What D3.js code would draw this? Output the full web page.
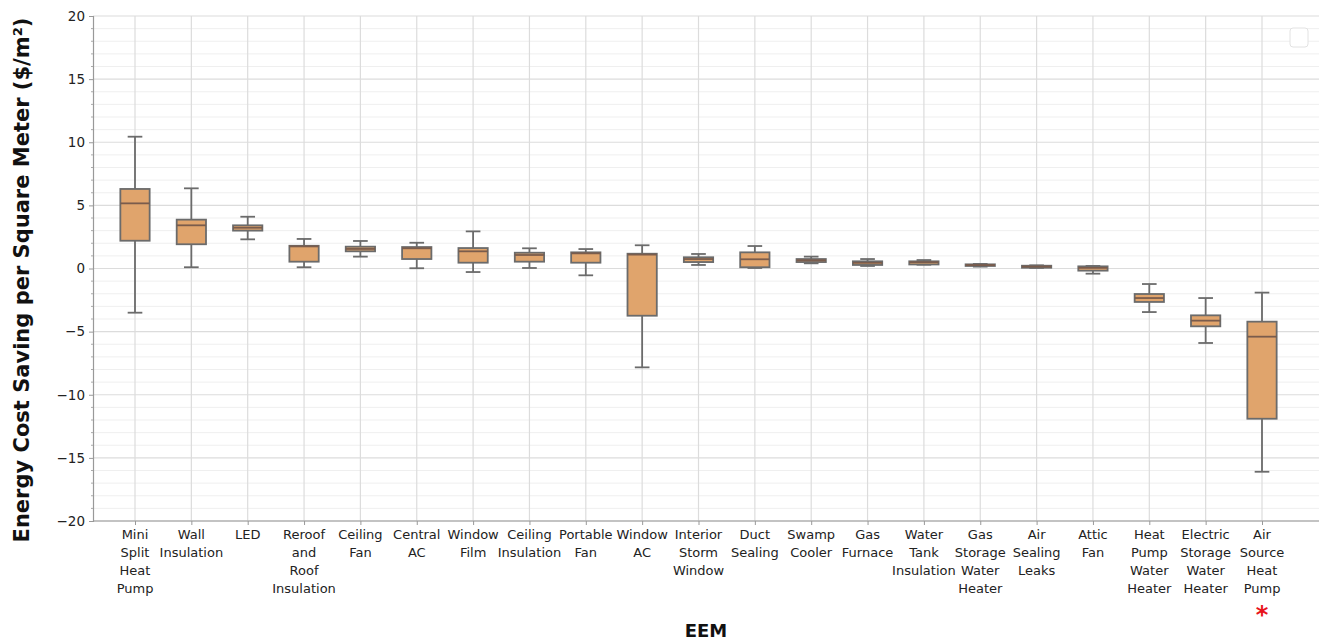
<!DOCTYPE html>
<html>
<head>
<meta charset="utf-8">
<script src="https://cdn.jsdelivr.net/npm/d3@7"></script>
<style>
  body { margin: 0; background: #fff; }
  .chart text { font-family: "DejaVu Sans", sans-serif; fill: #222; }
</style>
</head>
<body>
<svg class="chart" width="1319" height="641"></svg>
<script>
var categories = [
  "Mini Split Heat Pump", "Wall Insulation", "LED", "Reroof and Roof Insulation",
  "Ceiling Fan", "Central AC", "Window Film", "Ceiling Insulation", "Portable Fan",
  "Window AC", "Interior Storm Window", "Duct Sealing", "Swamp Cooler", "Gas Furnace",
  "Water Tank Insulation", "Gas Storage Water Heater", "Air Sealing Leaks", "Attic Fan",
  "Heat Pump Water Heater", "Electric Storage Water Heater", "Air Source Heat Pump"
];
// label lines as drawn under each tick
var tickLabels = [
  ["Mini", "Split", "Heat", "Pump"], ["Wall", "Insulation"], ["LED"], ["Reroof", "and", "Roof", "Insulation"],
  ["Ceiling", "Fan"], ["Central", "AC"], ["Window", "Film"], ["Ceiling", "Insulation"], ["Portable", "Fan"],
  ["Window", "AC"], ["Interior", "Storm", "Window"], ["Duct", "Sealing"], ["Swamp", "Cooler"], ["Gas", "Furnace"],
  ["Water", "Tank", "Insulation"], ["Gas", "Storage", "Water", "Heater"], ["Air", "Sealing", "Leaks"], ["Attic", "Fan"],
  ["Heat", "Pump", "Water", "Heater"], ["Electric", "Storage", "Water", "Heater"], ["Air", "Source", "Heat", "Pump"]
];
var whiskerLow  = [-3.5, 0.1, 2.31, 0.1, 0.94, 0.02, -0.28, 0.04, -0.54, -7.83, 0.28, 0.04, 0.41, 0.2, 0.3, 0.15, 0.05, -0.41, -3.45, -5.9, -16.1];
var q1          = [2.2, 1.92, 3.0, 0.54, 1.36, 0.75, 0.46, 0.54, 0.46, -3.74, 0.51, 0.1, 0.51, 0.28, 0.32, 0.2, 0.06, -0.17, -2.65, -4.58, -11.9];
var median      = [5.16, 3.42, 3.23, 1.75, 1.55, 1.6, 1.36, 1.07, 1.2, 1.1, 0.75, 0.73, 0.65, 0.45, 0.5, 0.27, 0.15, 0.05, -2.34, -4.13, -5.4];
var q3          = [6.3, 3.87, 3.42, 1.8, 1.73, 1.7, 1.62, 1.25, 1.28, 1.17, 0.89, 1.28, 0.75, 0.57, 0.57, 0.33, 0.22, 0.17, -2.02, -3.71, -4.21];
var whiskerHigh = [10.44, 6.35, 4.1, 2.34, 2.18, 2.04, 2.94, 1.6, 1.54, 1.84, 1.15, 1.78, 0.94, 0.75, 0.67, 0.36, 0.25, 0.2, -1.23, -2.34, -1.91];
var yTicks = [-20, -15, -10, -5, 0, 5, 10, 15, 20];
var marked = ["Air Source Heat Pump"];

(function() {
  var data = categories.map(function(c, i) {
    return { name: c, lines: tickLabels[i], lo: whiskerLow[i], q1: q1[i], med: median[i], q3: q3[i], hi: whiskerHigh[i] };
  });

  var svg = d3.select(".chart"),
      plotLeft = 93, plotRight = 1319, plotTop = 16, plotBottom = 521;

  var yScale = d3.scaleLinear().domain([-20, 20]).range([plotBottom, plotTop]);
  var xScale = d3.scalePoint().domain(categories).range([135, 1262]);
  var boxW = xScale.step() * 0.52;
  var minor = d3.range(-20, 21, 1).filter(function(v) { return v % 5 !== 0; });

  // minor grid
  svg.append("g").selectAll("line")
    .data(minor)
    .enter().append("line")
    .attr("x1", plotLeft).attr("x2", plotRight)
    .attr("y1", function(d) { return yScale(d); }).attr("y2", function(d) { return yScale(d); })
    .attr("stroke", "#efefef").attr("stroke-width", 1);

  // major grid
  svg.append("g").selectAll("line")
    .data(yTicks)
    .enter().append("line")
    .attr("x1", plotLeft).attr("x2", plotRight)
    .attr("y1", function(d) { return yScale(d); }).attr("y2", function(d) { return yScale(d); })
    .attr("stroke", "#dcdcdc").attr("stroke-width", 1.2);

  // vertical grid
  svg.append("g").selectAll("line")
    .data(categories)
    .enter().append("line")
    .attr("x1", function(d) { return xScale(d); }).attr("x2", function(d) { return xScale(d); })
    .attr("y1", plotTop).attr("y2", plotBottom)
    .attr("stroke", "#dcdcdc").attr("stroke-width", 1.2);

  // y axis
  var yAxis = svg.append("g")
    .attr("transform", "translate(" + plotLeft + ",0)")
    .call(d3.axisLeft(yScale).tickValues(yTicks).tickSize(4).tickPadding(4)
      .tickFormat(function(d) { return d < 0 ? "\u2212" + Math.abs(d) : d; }));
  yAxis.select(".domain").attr("stroke", "#999").attr("stroke-width", 1.2);
  yAxis.selectAll(".tick line").attr("stroke", "#999");
  yAxis.selectAll(".tick text").style("font-size", "13.5px");
  svg.append("g").selectAll("line")
    .data(minor)
    .enter().append("line")
    .attr("x1", plotLeft - 2).attr("x2", plotLeft)
    .attr("y1", function(d) { return yScale(d); }).attr("y2", function(d) { return yScale(d); })
    .attr("stroke", "#aaa");

  // x axis
  var xAxis = svg.append("g")
    .attr("transform", "translate(0," + plotBottom + ")")
    .call(d3.axisBottom(xScale).tickSize(4).tickFormat(""));
  xAxis.select(".domain").attr("d", "M" + plotLeft + ",0H" + plotRight).attr("stroke", "#999").attr("stroke-width", 1.2);
  xAxis.selectAll(".tick line").attr("stroke", "#999");

  var lab = svg.append("g").selectAll("text")
    .data(data)
    .enter().append("text")
    .attr("text-anchor", "middle")
    .style("font-size", "13px")
    .attr("transform", function(d) { return "translate(" + xScale(d.name) + "," + (plotBottom + 18) + ")"; });
  lab.selectAll("tspan")
    .data(function(d) { return d.lines; })
    .enter().append("tspan")
    .attr("x", 0)
    .attr("y", function(d, i) { return i * 18; })
    .text(function(d) { return d; });

  // boxes
  var box = svg.append("g").selectAll("g")
    .data(data)
    .enter().append("g")
    .attr("transform", function(d) { return "translate(" + xScale(d.name) + ",0)"; });

  var edge = "#6b6b6b";
  box.append("line")
    .attr("x1", 0).attr("x2", 0)
    .attr("y1", function(d) { return yScale(d.hi); }).attr("y2", function(d) { return yScale(d.q3); })
    .attr("stroke", edge).attr("stroke-width", 1.8);
  box.append("line")
    .attr("x1", 0).attr("x2", 0)
    .attr("y1", function(d) { return yScale(d.q1); }).attr("y2", function(d) { return yScale(d.lo); })
    .attr("stroke", edge).attr("stroke-width", 1.8);
  box.selectAll(".cap")
    .data(function(d) { return [d.lo, d.hi]; })
    .enter().append("line")
    .attr("x1", -boxW / 4).attr("x2", boxW / 4)
    .attr("y1", function(v) { return yScale(v); }).attr("y2", function(v) { return yScale(v); })
    .attr("stroke", edge).attr("stroke-width", 1.8);
  box.append("rect")
    .attr("x", -boxW / 2).attr("width", boxW)
    .attr("y", function(d) { return yScale(d.q3); })
    .attr("height", function(d) { return yScale(d.q1) - yScale(d.q3); })
    .attr("fill", "#e0a46c").attr("stroke", edge).attr("stroke-width", 1.8);
  box.append("line")
    .attr("x1", -boxW / 2).attr("x2", boxW / 2)
    .attr("y1", function(d) { return yScale(d.med); }).attr("y2", function(d) { return yScale(d.med); })
    .attr("stroke", "#7a5c4c").attr("stroke-width", 1.8);

  // marker under flagged category
  svg.append("g").selectAll("text")
    .data(marked)
    .enter().append("text")
    .attr("x", function(d) { return xScale(d); })
    .attr("y", 623)
    .attr("text-anchor", "middle")
    .style("font-size", "24px").style("font-weight", "bold")
    .style("fill", "#e8141c")
    .text("*");

  // empty legend frame
  svg.append("rect")
    .attr("x", 1290).attr("y", 28).attr("width", 18).attr("height", 19).attr("rx", 3)
    .attr("fill", "#fff").attr("stroke", "#e2e2e2");

  // axis titles
  svg.append("text")
    .attr("transform", "translate(29,280) rotate(-90)")
    .attr("text-anchor", "middle")
    .style("font-size", "21px").style("font-weight", "bold")
    .style("fill", "#111")
    .text("Energy Cost Saving per Square Meter ($/m\u00b2)");
  svg.append("text")
    .attr("x", 706).attr("y", 637)
    .attr("text-anchor", "middle")
    .style("font-size", "18px").style("font-weight", "bold")
    .style("fill", "#111")
    .text("EEM");
})();
</script>
</body>
</html>
